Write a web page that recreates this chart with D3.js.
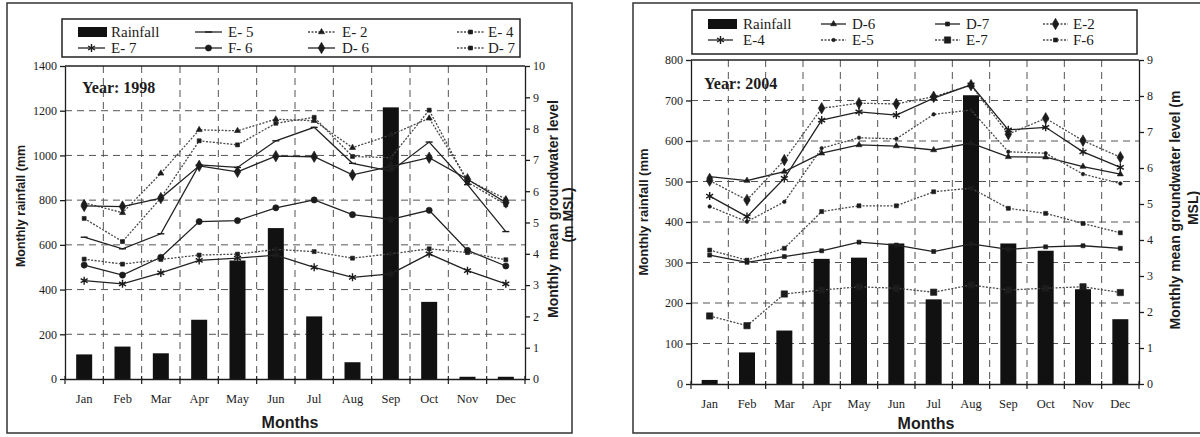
<!DOCTYPE html>
<html>
<head>
<meta charset="utf-8">
<script src="https://cdn.jsdelivr.net/npm/d3@7"></script>
<style>
body { margin: 0; background: #fff; }
</style>
</head>
<body>
<div id="chart"></div>
<script>

var months = ["Jan", "Feb", "Mar", "Apr", "May", "Jun", "Jul", "Aug", "Sep", "Oct", "Nov", "Dec"];

// rainfall (mm), left axis
var rain1998 = [110, 145, 115, 265, 530, 675, 280, 75, 1215, 345, 10, 10];
var rain2004 = [10, 78, 132, 309, 312, 347, 209, 713, 347, 329, 234, 160];

// groundwater level (m MSL), right axis - 1998
var gw98_E5 = [4.53, 4.16, 4.64, 6.84, 6.76, 7.61, 8.04, 6.89, 6.64, 7.57, 6.21, 4.71];
var gw98_E2 = [5.63, 5.31, 6.57, 7.96, 7.93, 8.30, 8.25, 7.39, 7.80, 8.33, 6.36, 5.75];
var gw98_E4 = [5.13, 4.39, 5.78, 7.61, 7.48, 8.17, 8.36, 7.11, 7.07, 8.59, 6.29, 5.57];
var gw98_E7 = [3.14, 3.04, 3.39, 3.79, 3.86, 3.96, 3.57, 3.25, 3.36, 4.00, 3.46, 3.04];
var gw98_F6 = [3.64, 3.32, 3.89, 5.03, 5.06, 5.47, 5.72, 5.25, 5.10, 5.39, 4.11, 3.61];
var gw98_D6 = [5.53, 5.51, 5.78, 6.81, 6.62, 7.12, 7.10, 6.52, 6.79, 7.07, 6.38, 5.64];
var gw98_D7 = [3.83, 3.67, 3.82, 3.96, 3.99, 4.14, 4.07, 3.86, 4.00, 4.16, 4.04, 3.81];

// groundwater level (m MSL) - 2004
var gw04_D6 = [5.76, 5.65, 5.90, 6.41, 6.64, 6.61, 6.50, 6.69, 6.31, 6.30, 6.04, 5.83];
var gw04_D7 = [3.58, 3.38, 3.54, 3.70, 3.94, 3.86, 3.68, 3.89, 3.74, 3.81, 3.84, 3.77];
var gw04_E2 = [5.65, 5.11, 6.22, 7.66, 7.80, 7.78, 7.98, 8.30, 6.94, 7.38, 6.76, 6.30];
var gw04_E4 = [5.22, 4.65, 5.71, 7.33, 7.56, 7.47, 7.94, 8.31, 7.06, 7.13, 6.45, 6.02];
var gw04_E5 = [4.93, 4.51, 5.06, 6.55, 6.84, 6.81, 7.49, 7.61, 6.45, 6.41, 5.83, 5.57];
var gw04_E7 = [1.89, 1.62, 2.50, 2.61, 2.70, 2.66, 2.55, 2.75, 2.61, 2.66, 2.70, 2.54];
var gw04_F6 = [3.72, 3.44, 3.77, 4.79, 4.95, 4.95, 5.34, 5.44, 4.88, 4.74, 4.46, 4.20];

var rainTicks98 = [0, 200, 400, 600, 800, 1000, 1200, 1400];
var rainTicks04 = [0, 100, 200, 300, 400, 500, 600, 700, 800];
var gwTicks98 = [0, 1, 2, 3, 4, 5, 6, 7, 8, 9, 10];
var gwTicks04 = [0, 1, 2, 3, 4, 5, 6, 7, 8, 9];

var width = 1200;
var height = 437;

var serif = "'Liberation Serif', 'Times New Roman', serif";
var sans = "'Liberation Sans', Arial, sans-serif";
var ink = "#1c1c1c";

var svg = d3.select("#chart")
    .append("svg")
        .attr("width", width)
        .attr("height", height);

svg.append("rect")
    .attr("width", width)
    .attr("height", height)
    .attr("fill", "#fff");

var panels = [
    {
        year: "1998",
        frame: [7, 3, 565, 430],
        x0: 65, x1: 525, y0: 66, y1: 379,
        rain: rain1998, rainTicks: rainTicks98, gwTicks: gwTicks98,
        series: [
            { name: "E- 5", values: gw98_E5, marker: "dash", dotted: false },
            { name: "E- 2", values: gw98_E2, marker: "triangle", dotted: true },
            { name: "E- 4", values: gw98_E4, marker: "square", dotted: true },
            { name: "E- 7", values: gw98_E7, marker: "asterisk", dotted: false },
            { name: "F- 6", values: gw98_F6, marker: "circle", dotted: false },
            { name: "D- 6", values: gw98_D6, marker: "diamond", dotted: false },
            { name: "D- 7", values: gw98_D7, marker: "square", dotted: true }
        ],
        legendBox: [62, 19, 458, 38],
        legendRows: [32, 48],
        legendSample: [78, 195, 308, 457],
        legendSampleW: 27,
        legendText: [111, 228, 342, 488],
        yearPos: [82, 93],
        leftTitle: [21, 206, 12.5],
        rightTitle: { x: 553, y: 209, text: "Monthly mean groundwater level", x2: 568, y2: 215, text2: "(m MSL)" },
        monthsX: 290, monthsY: 428
    },
    {
        year: "2004",
        frame: [633, 3, 600, 430],
        x0: 691, x1: 1139, y0: 60, y1: 384,
        rain: rain2004, rainTicks: rainTicks04, gwTicks: gwTicks04,
        series: [
            { name: "D-6", values: gw04_D6, marker: "triangle", dotted: false },
            { name: "D-7", values: gw04_D7, marker: "square", dotted: false },
            { name: "E-2", values: gw04_E2, marker: "diamond", dotted: true },
            { name: "E-4", values: gw04_E4, marker: "asterisk", dotted: false },
            { name: "E-5", values: gw04_E5, marker: "dot", dotted: true },
            { name: "E-7", values: gw04_E7, marker: "bigsquare", dotted: true },
            { name: "F-6", values: gw04_F6, marker: "square", dotted: true }
        ],
        legendBox: [692, 10, 445, 44],
        legendRows: [24, 40],
        legendSample: [708, 821, 935, 1043],
        legendSampleW: 25,
        legendText: [743, 852, 966, 1073],
        yearPos: [704, 89],
        leftTitle: [643, 212, 13],
        rightTitle: { x: 1175, y: 210, text: "Monthly mean groundwater level (m", x2: 1193, y2: 208, text2: "MSL)" },
        monthsX: 926, monthsY: 429
    }
];

function markerPath(type) {
    if (type === "dash") return "M-3.5,0H3.5";
    if (type === "triangle") return d3.symbol().type(d3.symbolTriangle).size(16)();
    if (type === "square") return d3.symbol().type(d3.symbolSquare).size(16)();
    if (type === "bigsquare") return d3.symbol().type(d3.symbolSquare).size(40)();
    if (type === "diamond") return d3.symbol().type(d3.symbolDiamond).size(38)();
    if (type === "circle") return d3.symbol().type(d3.symbolCircle).size(30)();
    if (type === "dot") return d3.symbol().type(d3.symbolCircle).size(10)();
    if (type === "asterisk") return d3.symbol().type(d3.symbolAsterisk).size(45)();
    return "";
}

function styleLine(sel, s) {
    sel.attr("fill", "none")
        .attr("stroke", s.dotted ? "#4a4a4a" : "#222")
        .attr("stroke-width", 1.3)
        .attr("stroke-dasharray", s.dotted ? "2,1.5" : null);
}

function styleMarker(sel, s) {
    var stroked = (s.marker === "asterisk" || s.marker === "dash");
    sel.attr("d", markerPath(s.marker))
        .attr("fill", stroked ? "none" : "#1c1c1c")
        .attr("stroke", "#1c1c1c")
        .attr("stroke-width", stroked ? 1.4 : 0.6);
}

function drawPanel(p) {
    var g = svg.append("g");

    g.append("rect")
        .attr("x", p.frame[0])
        .attr("y", p.frame[1])
        .attr("width", p.frame[2])
        .attr("height", p.frame[3])
        .attr("fill", "none")
        .attr("stroke", "#333")
        .attr("stroke-width", 1.5);

    var x = d3.scaleBand().domain(months).range([p.x0, p.x1]);
    var cx = function(i) { return x(months[i]) + x.bandwidth() / 2; };
    var yL = d3.scaleLinear()
        .domain([0, d3.max(p.rainTicks)])
        .range([p.y1, p.y0]);
    var yR = d3.scaleLinear()
        .domain([0, d3.max(p.gwTicks)])
        .range([p.y1, p.y0]);

    // dashed grid
    g.selectAll(".hgrid")
        .data(p.rainTicks.slice(1, -1))
        .enter().append("line")
        .attr("x1", p.x0).attr("x2", p.x1)
        .attr("y1", function(d) { return yL(d); })
        .attr("y2", function(d) { return yL(d); })
        .attr("stroke", "#555")
        .attr("stroke-width", 1)
        .attr("stroke-dasharray", "7,5");

    g.selectAll(".vgrid")
        .data(months.slice(1))
        .enter().append("line")
        .attr("x1", function(d) { return x(d); })
        .attr("x2", function(d) { return x(d); })
        .attr("y1", p.y0).attr("y2", p.y1)
        .attr("stroke", "#555")
        .attr("stroke-width", 1)
        .attr("stroke-dasharray", "7,5");

    // top frame of plot
    g.append("line")
        .attr("x1", p.x0).attr("x2", p.x1)
        .attr("y1", p.y0).attr("y2", p.y0)
        .attr("stroke", "#222")
        .attr("stroke-width", 1.3);

    // rainfall bars
    g.selectAll(".bar")
        .data(p.rain)
        .enter().append("rect")
        .attr("x", function(d, i) { return cx(i) - 8; })
        .attr("y", function(d) { return yL(d); })
        .attr("width", 16)
        .attr("height", function(d) { return yL(0) - yL(d); })
        .attr("fill", "#111");

    // groundwater lines
    var line = d3.line()
        .x(function(d, i) { return cx(i); })
        .y(function(d) { return yR(d); });

    p.series.forEach(function(s) {
        g.append("path")
            .datum(s.values)
            .attr("d", line)
            .call(styleLine, s);
        g.selectAll(null)
            .data(s.values)
            .enter().append("path")
            .attr("transform", function(d, i) { return "translate(" + cx(i) + "," + yR(d) + ")"; })
            .call(styleMarker, s);
    });

    // axes
    g.append("g")
        .attr("transform", "translate(" + p.x0 + ",0)")
        .attr("color", ink)
        .call(d3.axisLeft(yL).tickValues(p.rainTicks).tickFormat(d3.format("d"))
            .tickSize(5).tickSizeOuter(0).tickPadding(3))
        .attr("font-family", serif)
        .attr("font-size", 12)
        .call(function(a) { a.selectAll("path, line").attr("stroke-width", 1.3); });

    g.append("g")
        .attr("transform", "translate(" + p.x1 + ",0)")
        .attr("color", ink)
        .call(d3.axisRight(yR).tickValues(p.gwTicks).tickFormat(d3.format("d"))
            .tickSize(5).tickSizeOuter(0).tickPadding(3))
        .attr("font-family", serif)
        .attr("font-size", 12)
        .call(function(a) { a.selectAll("path, line").attr("stroke-width", 1.3); });

    g.append("g")
        .attr("transform", "translate(0," + p.y1 + ")")
        .attr("color", ink)
        .call(d3.axisBottom(x).tickSize(0).tickSizeOuter(0).tickPadding(15))
        .attr("font-family", serif)
        .attr("font-size", 12.5)
        .call(function(a) { a.select(".domain").attr("stroke-width", 1.3); });

    // month boundary ticks
    g.selectAll(".mtick")
        .data(months.map(function(m) { return x(m); }).concat([x.range()[1]]))
        .enter().append("line")
        .attr("x1", function(d) { return d; })
        .attr("x2", function(d) { return d; })
        .attr("y1", p.y1 - 3)
        .attr("y2", p.y1 + 5)
        .attr("stroke", ink)
        .attr("stroke-width", 1.2);

    // year label
    g.append("text")
        .attr("x", p.yearPos[0])
        .attr("y", p.yearPos[1])
        .attr("font-family", serif)
        .attr("font-weight", "bold")
        .attr("font-size", 16)
        .attr("fill", ink)
        .text("Year: " + p.year);

    // axis titles
    g.append("text")
        .attr("x", p.monthsX)
        .attr("y", p.monthsY)
        .attr("text-anchor", "middle")
        .attr("font-family", sans)
        .attr("font-weight", "bold")
        .attr("font-size", 16)
        .attr("fill", ink)
        .text("Months");

    g.append("text")
        .attr("transform", "translate(" + p.leftTitle[0] + "," + p.leftTitle[1] + ") rotate(-90)")
        .attr("dy", "0.35em")
        .attr("text-anchor", "middle")
        .attr("font-family", sans)
        .attr("font-weight", "bold")
        .attr("font-size", p.leftTitle[2])
        .attr("fill", ink)
        .text("Monthly rainfall (mm");

    var rt = p.rightTitle;
    g.append("text")
        .attr("transform", "translate(" + rt.x + "," + rt.y + ") rotate(-90)")
        .attr("dy", "0.35em")
        .attr("text-anchor", "middle")
        .attr("font-family", sans)
        .attr("font-weight", "bold")
        .attr("font-size", 14)
        .attr("fill", ink)
        .text(rt.text);
    g.append("text")
        .attr("transform", "translate(" + rt.x2 + "," + rt.y2 + ") rotate(-90)")
        .attr("dy", "0.35em")
        .attr("text-anchor", "middle")
        .attr("font-family", sans)
        .attr("font-weight", "bold")
        .attr("font-size", 14)
        .attr("fill", ink)
        .text(rt.text2);

    // legend
    var lb = p.legendBox;
    g.append("rect")
        .attr("x", lb[0]).attr("y", lb[1])
        .attr("width", lb[2]).attr("height", lb[3])
        .attr("fill", "#fff")
        .attr("stroke", "#222")
        .attr("stroke-width", 1.5);

    var items = [{ name: "Rainfall", bar: true }].concat(p.series);
    items.forEach(function(it, k) {
        var col = k % 4;
        var row = Math.floor(k / 4);
        var sx = p.legendSample[col];
        var sy = p.legendRows[row];
        var sw = p.legendSampleW;
        if (it.bar) {
            g.append("rect")
                .attr("x", sx).attr("y", sy - 5)
                .attr("width", 29).attr("height", 10)
                .attr("fill", "#111");
        } else {
            g.append("line")
                .attr("x1", sx).attr("x2", sx + sw)
                .attr("y1", sy).attr("y2", sy)
                .call(styleLine, it);
            g.append("path")
                .attr("transform", "translate(" + (sx + sw / 2) + "," + sy + ")")
                .call(styleMarker, it);
        }
        g.append("text")
            .attr("x", p.legendText[col])
            .attr("y", sy + 5)
            .attr("font-family", serif)
            .attr("font-size", 15)
            .attr("fill", ink)
            .text(it.name);
    });
}

panels.forEach(drawPanel);

</script>
</body>
</html>
